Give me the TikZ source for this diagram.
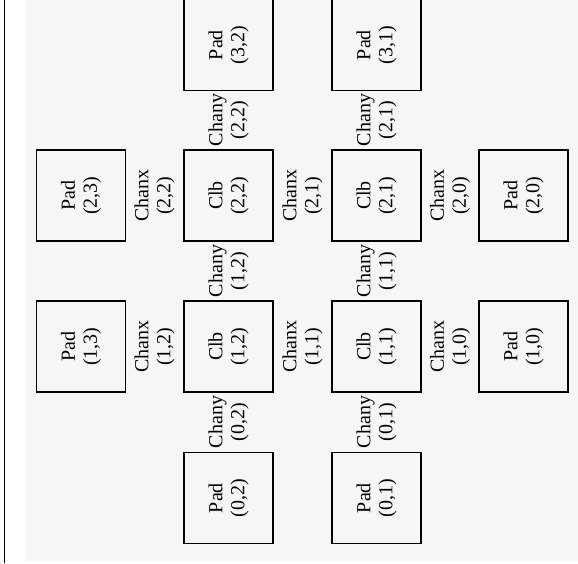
\documentclass[tikz,border=0pt]{standalone}
\usepackage{fontspec}
\setmainfont{Liberation Serif}
\begin{document}
\begin{tikzpicture}[x=1pt, y=-1pt, font=\fontsize{20}{22}\selectfont,
  blk/.style={draw, line width=1.2pt, minimum width=89pt, minimum height=91pt, inner sep=0pt, outer sep=0pt},
  lbl/.style={rotate=90, align=center, inner sep=1pt}]
  \useasboundingbox (0,0) rectangle (578,563);
  \fill[gray!7] (26,0) rectangle (578,561);
  \draw[line width=0.8pt] (4,0) -- (4,563);
  % top pads
  \node[blk] (pad32) at (228.5,45) {};
  \node[blk] (pad31) at (376.5,45) {};
  \node[lbl] at (pad32) {Pad\\(3,2)};
  \node[lbl] at (pad31) {Pad\\(3,1)};
  \node[lbl] (chany22) at (228.5,120) {Chany\\(2,2)};
  \node[lbl] (chany21) at (376.5,120) {Chany\\(2,1)};
  % row 2
  \node[blk] (pad23) at (81,195.5) {};
  \node[blk] (clb22) at (228.5,195.5) {};
  \node[blk] (clb21) at (376.5,195.5) {};
  \node[blk] (pad20) at (523.5,195.5) {};
  \node[lbl] at (pad23) {Pad\\(2,3)};
  \node[lbl] at (clb22) {Clb\\(2,2)};
  \node[lbl] at (clb21) {Clb\\(2,1)};
  \node[lbl] at (pad20) {Pad\\(2,0)};
  \node[lbl] (chanx22) at (154.5,195.5) {Chanx\\(2,2)};
  \node[lbl] (chanx21) at (302.5,195.5) {Chanx\\(2,1)};
  \node[lbl] (chanx20) at (450,195.5) {Chanx\\(2,0)};
  \node[lbl] (chany12) at (228.5,271) {Chany\\(1,2)};
  \node[lbl] (chany11) at (376.5,271) {Chany\\(1,1)};
  % row 1
  \node[blk] (pad13) at (81,346.5) {};
  \node[blk] (clb12) at (228.5,346.5) {};
  \node[blk] (clb11) at (376.5,346.5) {};
  \node[blk] (pad10) at (523.5,346.5) {};
  \node[lbl] at (pad13) {Pad\\(1,3)};
  \node[lbl] at (clb12) {Clb\\(1,2)};
  \node[lbl] at (clb11) {Clb\\(1,1)};
  \node[lbl] at (pad10) {Pad\\(1,0)};
  \node[lbl] (chanx12) at (154.5,346.5) {Chanx\\(1,2)};
  \node[lbl] (chanx11) at (302.5,346.5) {Chanx\\(1,1)};
  \node[lbl] (chanx10) at (450,346.5) {Chanx\\(1,0)};
  \node[lbl] (chany02) at (228.5,422) {Chany\\(0,2)};
  \node[lbl] (chany01) at (376.5,422) {Chany\\(0,1)};
  % bottom pads
  \node[blk] (pad02) at (228.5,498) {};
  \node[blk] (pad01) at (376.5,498) {};
  \node[lbl] at (pad02) {Pad\\(0,2)};
  \node[lbl] at (pad01) {Pad\\(0,1)};
\end{tikzpicture}
\end{document}
